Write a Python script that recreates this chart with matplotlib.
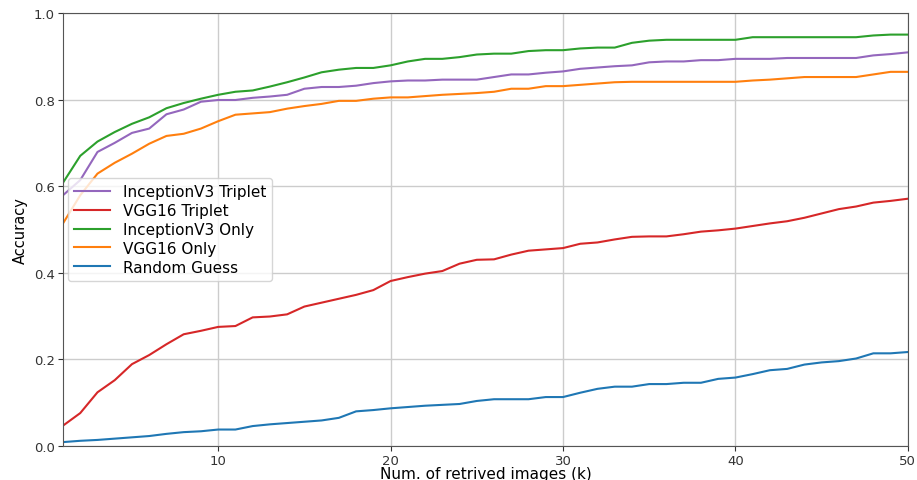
import matplotlib
matplotlib.use('Agg')
import matplotlib.pyplot as plt
import numpy as np

k = np.arange(1, 51)

inception_triplet = [0.579, 0.614, 0.679, 0.700, 0.723, 0.733, 0.766, 0.777, 0.795, 0.799,
                     0.799, 0.804, 0.807, 0.811, 0.825, 0.829, 0.829, 0.832, 0.838, 0.842,
                     0.844, 0.844, 0.846, 0.846, 0.846, 0.852, 0.858, 0.858, 0.862, 0.865,
                     0.871, 0.874, 0.877, 0.879, 0.886, 0.888, 0.888, 0.891, 0.891, 0.894,
                     0.894, 0.894, 0.896, 0.896, 0.896, 0.896, 0.896, 0.902, 0.905, 0.909]
vgg_triplet = [0.047, 0.076, 0.124, 0.152, 0.189, 0.210, 0.235, 0.258, 0.266, 0.275,
               0.277, 0.297, 0.299, 0.304, 0.322, 0.331, 0.340, 0.349, 0.360, 0.381,
               0.390, 0.398, 0.404, 0.421, 0.430, 0.431, 0.442, 0.451, 0.454, 0.457,
               0.467, 0.470, 0.477, 0.483, 0.484, 0.484, 0.489, 0.495, 0.498, 0.502,
               0.508, 0.514, 0.519, 0.527, 0.537, 0.547, 0.553, 0.562, 0.566, 0.571]
inception_only = [0.608, 0.670, 0.703, 0.725, 0.744, 0.759, 0.780, 0.792, 0.802, 0.811,
                  0.818, 0.821, 0.830, 0.840, 0.851, 0.863, 0.869, 0.873, 0.873, 0.879,
                  0.888, 0.894, 0.894, 0.898, 0.904, 0.906, 0.906, 0.912, 0.914, 0.914,
                  0.918, 0.920, 0.920, 0.931, 0.936, 0.938, 0.938, 0.938, 0.938, 0.938,
                  0.944, 0.944, 0.944, 0.944, 0.944, 0.944, 0.944, 0.948, 0.950, 0.950]
vgg_only = [0.514, 0.579, 0.629, 0.654, 0.675, 0.698, 0.716, 0.721, 0.733, 0.750,
            0.765, 0.768, 0.771, 0.779, 0.785, 0.790, 0.797, 0.797, 0.802, 0.805,
            0.805, 0.808, 0.811, 0.813, 0.815, 0.818, 0.825, 0.825, 0.831, 0.831,
            0.834, 0.837, 0.840, 0.841, 0.841, 0.841, 0.841, 0.841, 0.841, 0.841,
            0.844, 0.846, 0.849, 0.852, 0.852, 0.852, 0.852, 0.858, 0.864, 0.864]
random_guess = [0.009, 0.012, 0.014, 0.017, 0.020, 0.023, 0.028, 0.032, 0.034, 0.038,
                0.038, 0.046, 0.050, 0.053, 0.056, 0.059, 0.065, 0.080, 0.083, 0.087,
                0.090, 0.093, 0.095, 0.097, 0.104, 0.108, 0.108, 0.108, 0.113, 0.113,
                0.123, 0.132, 0.137, 0.137, 0.143, 0.143, 0.146, 0.146, 0.155, 0.158,
                0.166, 0.175, 0.178, 0.188, 0.193, 0.196, 0.202, 0.214, 0.214, 0.217]

fig = plt.figure(figsize=(9.17, 4.81), dpi=100)
ax = fig.add_axes([0.0687, 0.0707, 0.9213, 0.9003])

ax.plot(k, inception_triplet, color='tab:purple', label='InceptionV3 Triplet')
ax.plot(k, vgg_triplet, color='tab:red', label='VGG16 Triplet')
ax.plot(k, inception_only, color='tab:green', label='InceptionV3 Only')
ax.plot(k, vgg_only, color='tab:orange', label='VGG16 Only')
ax.plot(k, random_guess, color='tab:blue', label='Random Guess')

ax.set_xlim(1, 50)
ax.set_ylim(0, 1.0)
ax.set_xticks([10, 20, 30, 40, 50])
ax.set_yticks([0.0, 0.2, 0.4, 0.6, 0.8, 1.0])
ax.tick_params(labelsize=9.5, colors='#333333', pad=2.5)
ax.grid(True, color='#cccccc', linewidth=1)
for s in ax.spines.values():
    s.set_color('#555555')

ax.set_xlabel('Num. of retrived images (k)', fontsize=11, labelpad=-1)
ax.set_ylabel('Accuracy', fontsize=10.5, labelpad=4)

ax.legend(loc='center left', fontsize=11, handlelength=2.4,
          borderaxespad=0.3, labelspacing=0.25)

fig.savefig('out.png', dpi=100)
